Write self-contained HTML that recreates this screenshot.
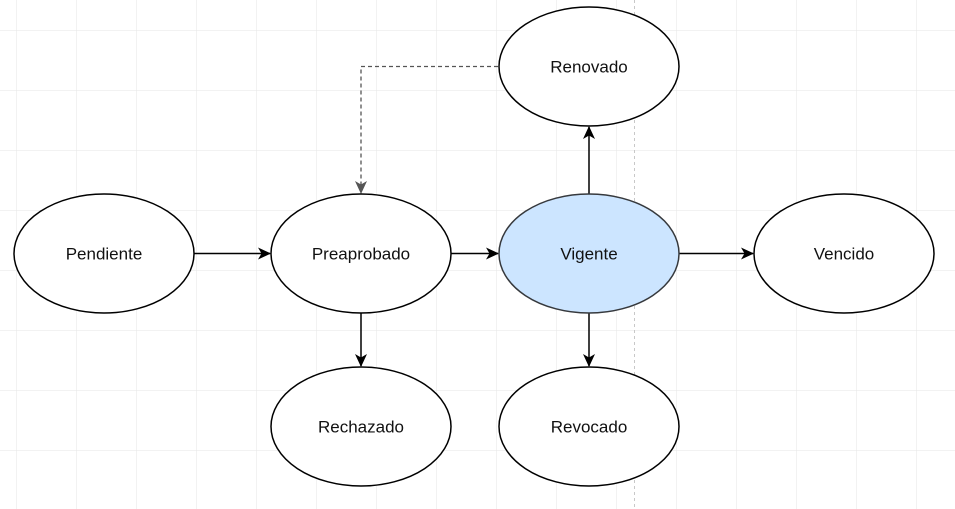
<!DOCTYPE html>
<html><head><meta charset="utf-8"><style>
html,body{margin:0;padding:0;background:#fff;}
svg{display:block;font-family:"Liberation Sans",Arial,sans-serif;}
</style></head><body>
<svg width="955" height="509" viewBox="0 0 955 509" xmlns="http://www.w3.org/2000/svg">
<defs>
<pattern id="g" x="16" y="30" width="60" height="60" patternUnits="userSpaceOnUse">
<path d="M0 0H60M0 0V60" stroke="#e6e6e6" stroke-width="1" fill="none"/>
</pattern>
<marker id="a" markerWidth="13" markerHeight="12" refX="12" refY="6" orient="auto" markerUnits="userSpaceOnUse">
<path d="M0,0 L13,6 L0,12 L3.5,6 Z" fill="#000"/>
</marker>
<marker id="b" markerWidth="13" markerHeight="12" refX="12" refY="6" orient="auto" markerUnits="userSpaceOnUse">
<path d="M0,0 L13,6 L0,12 L3.5,6 Z" fill="#555"/>
</marker>
</defs>
<rect width="955" height="509" fill="url(#g)"/>
<line x1="634.5" y1="0" x2="634.5" y2="509" stroke="#c8c8c8" stroke-dasharray="3,3"/>
<g stroke="#000" stroke-width="1.5" fill="none">
<line x1="194" y1="253.5" x2="270" y2="253.5" marker-end="url(#a)"/>
<line x1="451" y1="253.5" x2="498" y2="253.5" marker-end="url(#a)"/>
<line x1="679" y1="253.5" x2="753" y2="253.5" marker-end="url(#a)"/>
<line x1="589" y1="194" x2="589" y2="127" marker-end="url(#a)"/>
<line x1="589" y1="313" x2="589" y2="366" marker-end="url(#a)"/>
<line x1="361" y1="313" x2="361" y2="366" marker-end="url(#a)"/>
</g>
<path d="M498 66.5H361V193" stroke="#555" stroke-width="1.3" stroke-dasharray="4,3" fill="none" marker-end="url(#b)"/>
<g stroke="#000" stroke-width="1.5" fill="#fff">
<ellipse cx="104" cy="253.5" rx="90" ry="59.5"/>
<ellipse cx="361" cy="253.5" rx="90" ry="59.5"/>
<ellipse cx="589" cy="253.5" rx="90" ry="59.5" fill="#cce5ff" stroke="#36393d"/>
<ellipse cx="844" cy="253.5" rx="90" ry="59.5"/>
<ellipse cx="589" cy="66.5" rx="90" ry="59.5"/>
<ellipse cx="361" cy="426.5" rx="90" ry="59.5"/>
<ellipse cx="589" cy="426.5" rx="90" ry="59.5"/>
</g>
<g font-size="17" text-anchor="middle" fill="#111">
<text x="104" y="259.5">Pendiente</text>
<text x="361" y="259.5">Preaprobado</text>
<text x="589" y="259.5">Vigente</text>
<text x="844" y="259.5">Vencido</text>
<text x="589" y="72.5">Renovado</text>
<text x="361" y="432.5">Rechazado</text>
<text x="589" y="432.5">Revocado</text>
</g>
</svg>
</body></html>
